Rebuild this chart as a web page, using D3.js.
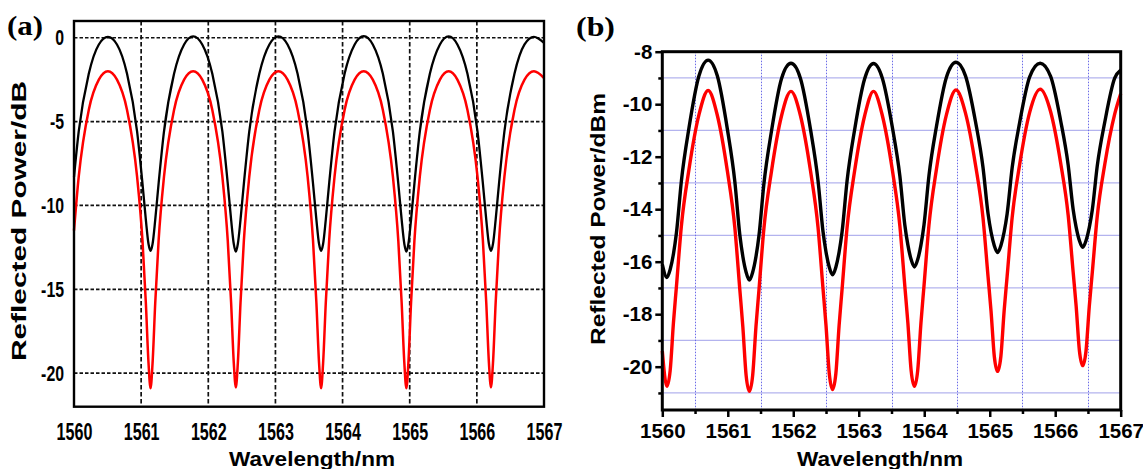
<!DOCTYPE html>
<html><head><meta charset="utf-8">
<script src="https://cdn.jsdelivr.net/npm/d3@7"></script>
<style>body{margin:0;background:#fff}svg{display:block}</style>
</head><body>
<svg id="chart" width="1143" height="469"></svg>
<script>
// ---------- data: panel (a) ----------
const wavelengthA = [
1560.00,1560.07,1560.22,1560.37,1560.505,
1560.64,1560.79,1560.94,1561.02,1561.07,1561.11,1561.14,1561.17,1561.21,1561.26,1561.34,1561.49,1561.64,1561.775,
1561.91,1562.06,1562.21,1562.29,1562.34,1562.38,1562.41,1562.44,1562.48,1562.53,1562.61,1562.76,1562.91,1563.045,
1563.18,1563.33,1563.48,1563.56,1563.61,1563.65,1563.68,1563.71,1563.75,1563.80,1563.88,1564.03,1564.18,1564.315,
1564.45,1564.60,1564.75,1564.83,1564.88,1564.92,1564.95,1564.98,1565.02,1565.07,1565.15,1565.30,1565.45,1565.58,
1565.71,1565.86,1566.01,1566.09,1566.14,1566.18,1566.21,1566.24,1566.28,1566.33,1566.41,1566.56,1566.71,1566.85,1567.00];
const blackA = [
-8.3,-5.6,-2.15,-0.4,0.05,
-0.4,-2.15,-5.6,-8.7,-10.85,-12.3,-12.7,-12.3,-10.85,-8.7,-5.6,-2.15,-0.4,0.08,
-0.4,-2.15,-5.6,-8.7,-10.85,-12.3,-12.75,-12.3,-10.85,-8.7,-5.6,-2.15,-0.4,0.08,
-0.4,-2.15,-5.6,-8.7,-10.85,-12.3,-12.7,-12.3,-10.85,-8.7,-5.6,-2.15,-0.4,0.1,
-0.4,-2.15,-5.6,-8.7,-10.85,-12.3,-12.75,-12.3,-10.85,-8.7,-5.6,-2.15,-0.4,0.08,
-0.4,-2.15,-5.6,-8.7,-10.85,-12.3,-12.7,-12.3,-10.85,-8.7,-5.6,-2.15,-0.4,0.05,-0.3];
const redA = [
-11.5,-8.3,-4.3,-2.5,-2.0,
-2.5,-4.3,-8.3,-12.1,-15.8,-19.4,-20.9,-19.4,-15.8,-12.1,-8.3,-4.3,-2.5,-2.0,
-2.5,-4.3,-8.3,-12.1,-15.8,-19.4,-20.85,-19.4,-15.8,-12.1,-8.3,-4.3,-2.5,-2.0,
-2.5,-4.3,-8.3,-12.1,-15.8,-19.4,-20.9,-19.4,-15.8,-12.1,-8.3,-4.3,-2.5,-2.0,
-2.5,-4.3,-8.3,-12.1,-15.8,-19.4,-20.9,-19.4,-15.8,-12.1,-8.3,-4.3,-2.5,-2.0,
-2.5,-4.3,-8.3,-12.1,-15.8,-19.4,-20.85,-19.4,-15.8,-12.1,-8.3,-4.3,-2.5,-2.0,-2.4];

// ---------- data: panel (b) ----------
const wavelengthB = [
1560.00,1560.07,1560.12,1560.17,1560.216,1560.292,1560.407,1560.56,1560.70,
1560.84,1560.993,1561.108,1561.184,1561.23,1561.28,1561.33,1561.38,1561.43,1561.476,1561.552,1561.667,1561.82,1561.965,
1562.11,1562.263,1562.378,1562.454,1562.50,1562.55,1562.60,1562.65,1562.70,1562.746,1562.822,1562.937,1563.09,1563.225,
1563.36,1563.513,1563.628,1563.704,1563.75,1563.80,1563.85,1563.90,1563.95,1563.996,1564.072,1564.187,1564.34,1564.485,
1564.63,1564.783,1564.898,1564.974,1565.02,1565.07,1565.12,1565.17,1565.22,1565.266,1565.342,1565.457,1565.61,1565.77,
1565.93,1566.083,1566.198,1566.274,1566.32,1566.37,1566.42,1566.47,1566.52,1566.566,1566.642,1566.757,1566.91,1567.00];
const blackB = [
-16.1,-16.6,-16.3,-15.71,-14.9,-12.91,-10.91,-8.92,-8.32,
-8.92,-10.94,-12.96,-14.98,-15.8,-16.4,-16.7,-16.4,-15.81,-15.01,-13.02,-11.03,-9.03,-8.44,
-9.02,-10.96,-12.91,-14.85,-15.63,-16.21,-16.5,-16.21,-15.63,-14.85,-12.91,-10.97,-9.03,-8.45,
-9.01,-10.88,-12.74,-14.61,-15.36,-15.92,-16.2,-15.92,-15.36,-14.6,-12.72,-10.84,-8.96,-8.4,
-8.92,-10.67,-12.42,-14.16,-14.87,-15.39,-15.65,-15.39,-14.87,-14.17,-12.43,-10.7,-8.96,-8.44,
-8.94,-10.63,-12.32,-14.01,-14.69,-15.2,-15.45,-15.2,-14.7,-14.03,-12.35,-10.68,-9.0,-8.7];
const redB = [
-19.4,-20.75,-20.15,-18.33,-16.94,-14.62,-12.49,-10.4,-9.48,
-10.42,-12.54,-14.71,-17.07,-18.48,-20.33,-20.94,-20.33,-18.48,-17.08,-14.72,-12.56,-10.45,-9.51,
-10.44,-12.54,-14.69,-17.03,-18.43,-20.27,-20.87,-20.27,-18.43,-17.03,-14.69,-12.54,-10.44,-9.51,
-10.43,-12.51,-14.64,-16.95,-18.33,-20.15,-20.75,-20.15,-18.32,-16.93,-14.61,-12.47,-10.39,-9.46,
-10.34,-12.32,-14.35,-16.56,-17.88,-19.61,-20.18,-19.61,-17.87,-16.55,-14.33,-12.3,-10.31,-9.43,
-10.29,-12.24,-14.23,-16.4,-17.7,-19.4,-19.96,-19.41,-17.71,-16.42,-14.27,-12.29,-10.36,-9.6];

// ---------- ticks ----------
const xTicks = [1560,1561,1562,1563,1564,1565,1566,1567];
const xGridA = [1561,1562,1563,1564,1565,1566];
const yTicksA = [0,-5,-10,-15,-20];
const yTicksB = [-8,-10,-12,-14,-16,-18,-20];
const yMinorB = [-9,-11,-13,-15,-17,-19,-21];
const xMinorB = [1560.5,1561.5,1562.5,1563.5,1564.5,1565.5,1566.5];

const svg = d3.select("#chart");
svg.append("rect").attr("width",1143).attr("height",469).attr("fill","#fff");
const fmt = d => String(d);
const SANS = "'Liberation Sans',Arial,sans-serif";
function squeeze(sel, k){ sel.each(function(){ const w=this.getComputedTextLength(); this.setAttribute("textLength", w*k); this.setAttribute("lengthAdjust","spacingAndGlyphs"); }); }

// ================= Panel (a) =================
const xA = d3.scaleLinear().domain([1560,1567]).range([74,544]);
const yA = d3.scaleLinear().domain([-22,1]).range([406.7,21]);
const gA = svg.append("g");
gA.selectAll("line.vg").data(xGridA).join("line")
  .attr("x1",d=>xA(d)).attr("x2",d=>xA(d)).attr("y1",yA(1)).attr("y2",yA(-22))
  .attr("stroke","#111").attr("stroke-width",1.7).attr("stroke-dasharray","4.5,2.5");
gA.selectAll("line.hg").data(yTicksA).join("line")
  .attr("x1",xA(1560)).attr("x2",xA(1567)).attr("y1",d=>yA(d)).attr("y2",d=>yA(d))
  .attr("stroke","#111").attr("stroke-width",1.7).attr("stroke-dasharray","3.5,2");
const lineA = (vals)=> d3.line().x((d,i)=>xA(wavelengthA[i])).y(d=>yA(d)).curve(d3.curveMonotoneX)(vals);
gA.append("path").attr("d",lineA(redA)).attr("fill","none").attr("stroke","#ff0000").attr("stroke-width",2.5);
gA.append("path").attr("d",lineA(blackA)).attr("fill","none").attr("stroke","#000").attr("stroke-width",2.3);
gA.append("rect").attr("x",74).attr("y",21).attr("width",470).attr("height",385.7)
  .attr("fill","none").attr("stroke","#000").attr("stroke-width",2.4);

const axA = gA.append("g").attr("transform","translate(0,406.7)")
  .call(d3.axisBottom(xA).tickValues(xTicks).tickFormat(fmt).tickSize(0));
axA.select(".domain").remove();
axA.selectAll("text").attr("y",33).attr("dy",null)
  .style("font-family",SANS).style("font-weight","bold").style("font-size","23px").attr("fill","#000");
squeeze(axA.selectAll("text"),0.7);
const ayA = gA.append("g").attr("transform","translate(74,0)")
  .call(d3.axisLeft(yA).tickValues(yTicksA).tickFormat(fmt).tickSize(0).tickPadding(10));
ayA.select(".domain").remove();
ayA.selectAll("text").style("font-family",SANS).style("font-weight","bold").style("font-size","22px").attr("fill","#000");
squeeze(ayA.selectAll("text"),0.72);

gA.append("text").attr("x",312).attr("y",466).attr("text-anchor","middle")
  .attr("textLength",166).attr("lengthAdjust","spacingAndGlyphs")
  .style("font-family",SANS).style("font-weight","bold").style("font-size","21px")
  .text("Wavelength/nm");
gA.append("text").attr("transform","translate(26,221) rotate(-90)").attr("text-anchor","middle")
  .attr("textLength",280).attr("lengthAdjust","spacingAndGlyphs")
  .style("font-family",SANS).style("font-weight","bold").style("font-size","20px")
  .text("Reflected Power/dB");
gA.append("text").attr("x",7).attr("y",35).attr("textLength",36).attr("lengthAdjust","spacingAndGlyphs")
  .style("font-family","'Liberation Serif','Times New Roman',serif").style("font-weight","bold").style("font-size","27px")
  .text("(a)");

// ================= Panel (b) =================
const xB = d3.scaleLinear().domain([1560,1567]).range([662.3,1120.7]);
const yB = d3.scaleLinear().domain([-21.65,-8]).range([410,51.7]);
const gB = svg.append("g");
gB.selectAll("line.hg").data(yMinorB).join("line")
  .attr("x1",xB(1560)).attr("x2",xB(1567)).attr("y1",d=>yB(d)).attr("y2",d=>yB(d))
  .attr("stroke","#b3b3ee").attr("stroke-width",1.2);
gB.selectAll("line.vg").data(xMinorB).join("line")
  .attr("x1",d=>Math.round(xB(d))+0.5).attr("x2",d=>Math.round(xB(d))+0.5).attr("y1",yB(-8)).attr("y2",yB(-21.65))
  .attr("stroke","#6b6be8").attr("stroke-width",1).attr("stroke-dasharray","1.5,1.5");
const lineB = (vals)=> d3.line().x((d,i)=>xB(wavelengthB[i])).y(d=>yB(d)).curve(d3.curveMonotoneX)(vals);
gB.append("path").attr("d",lineB(redB)).attr("fill","none").attr("stroke","#ff0000").attr("stroke-width",3.4);
gB.append("path").attr("d",lineB(blackB)).attr("fill","none").attr("stroke","#000").attr("stroke-width",3.4);
gB.append("rect").attr("x",662.3).attr("y",51.7).attr("width",458.4).attr("height",358.3)
  .attr("fill","none").attr("stroke","#000").attr("stroke-width",3);

const tickStyle = s => s.style("font-family",SANS).style("font-weight","bold").style("font-size","20.5px").attr("fill","#000");
const axB = gB.append("g").attr("transform","translate(0,410)")
  .call(d3.axisBottom(xB).tickValues(xTicks).tickFormat(fmt).tickSize(7).tickPadding(5));
axB.select(".domain").remove();
axB.selectAll("line").attr("stroke-width",2.5);
axB.selectAll("text").attr("y",28).attr("dy",null).call(tickStyle);
const axBm = gB.append("g").attr("transform","translate(0,410)")
  .call(d3.axisBottom(xB).tickValues(xMinorB).tickFormat("").tickSize(4));
axBm.select(".domain").remove();
axBm.selectAll("line").attr("stroke-width",2.5);
const ayB = gB.append("g").attr("transform","translate(662.3,0)")
  .call(d3.axisLeft(yB).tickValues(yTicksB).tickFormat(fmt).tickSize(7).tickPadding(3));
ayB.select(".domain").remove();
ayB.selectAll("line").attr("stroke-width",2.5);
ayB.selectAll("text").call(tickStyle);
const ayBm = gB.append("g").attr("transform","translate(662.3,0)")
  .call(d3.axisLeft(yB).tickValues(yMinorB).tickFormat("").tickSize(4));
ayBm.select(".domain").remove();
ayBm.selectAll("line").attr("stroke-width",2.5);

gB.append("text").attr("x",880).attr("y",466).attr("text-anchor","middle")
  .attr("textLength",166).attr("lengthAdjust","spacingAndGlyphs")
  .style("font-family",SANS).style("font-weight","bold").style("font-size","21px")
  .text("Wavelength/nm");
gB.append("text").attr("transform","translate(605,219) rotate(-90)").attr("text-anchor","middle")
  .attr("textLength",252).attr("lengthAdjust","spacingAndGlyphs")
  .style("font-family",SANS).style("font-weight","bold").style("font-size","21px")
  .text("Reflected Power/dBm");
gB.append("text").attr("x",576).attr("y",36).attr("textLength",39).attr("lengthAdjust","spacingAndGlyphs")
  .style("font-family","'Liberation Serif','Times New Roman',serif").style("font-weight","bold").style("font-size","27px")
  .text("(b)");
</script>
</body></html>
